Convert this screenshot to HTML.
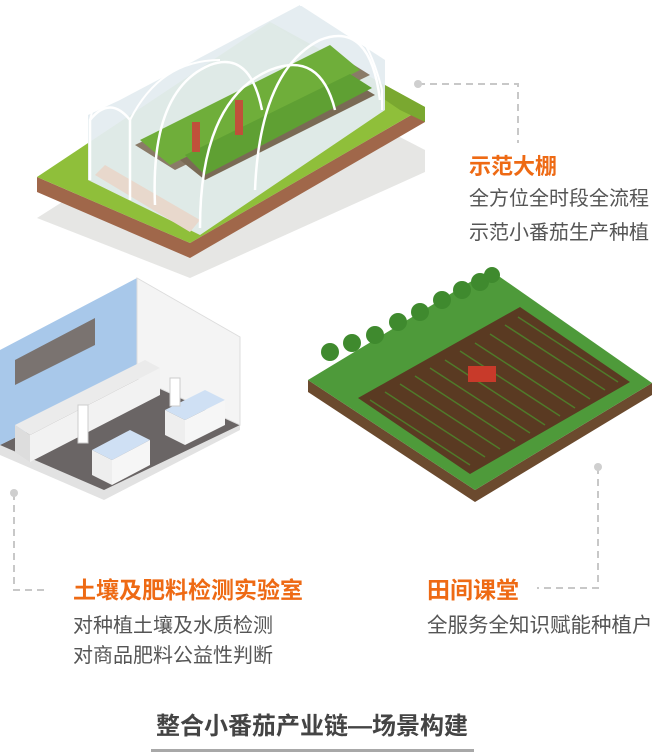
<!DOCTYPE html>
<html><head><meta charset="utf-8"><style>
html,body{margin:0;padding:0;background:#fff;}
body{width:654px;height:753px;position:relative;overflow:hidden;font-family:"Liberation Sans","Noto Sans CJK SC",sans-serif;}
.t{position:absolute;color:#ee6a14;font-weight:bold;font-size:22px;line-height:26px;white-space:nowrap;}
.b{position:absolute;color:#555;font-size:20px;line-height:24px;white-space:nowrap;}
svg{position:absolute;left:0;top:0;}
</style></head><body>
<svg width="654" height="753" viewBox="0 0 654 753">
<!-- greenhouse shadow -->
<polygon points="37,218 190,278 425,172 425,150 270,70" fill="#e6e6e4"/>
<!-- greenhouse platform -->
<polygon points="37,177 37,192 190,258 425,122 425,107 190,243" fill="#a0674a"/>
<polygon points="37,177 270,22 425,107 190,243" fill="#8fbf3a"/>
<polygon points="270,22 425,107 425,122 400,110" fill="#7aa830"/>
<!-- greenhouse body -->
<polygon points="88,180 88,115 120,100 300,5 385,60 385,110 200,235" fill="#e4ecf0" opacity="0.95"/>
<polygon points="95,175 190,232 200,220 105,165" fill="#e8d8cc"/>
<polygon points="135,145 330,50 370,75 175,170" fill="#8a7b68"/>
<polygon points="140,140 330,45 360,70 170,165" fill="#6fae3a"/>
<polygon points="180,160 350,80 375,95 205,180" fill="#7a6a55"/>
<polygon points="185,155 350,74 372,88 205,175" fill="#5fa033"/>
<path d="M90,180 L90,120 Q110,95 130,120 L130,200" fill="none" stroke="#fff" stroke-width="2.5"/>
<path d="M90,120 Q100,70 160,40 L300,0" fill="none" stroke="#fff" stroke-width="2"/>
<path d="M130,120 Q160,60 220,60" fill="none" stroke="#fff" stroke-width="2"/>
<path d="M200,228 Q200,100 270,70 Q320,50 335,110" fill="none" stroke="#fff" stroke-width="2.5"/>
<path d="M155,205 Q150,90 210,65 Q250,50 262,110" fill="none" stroke="#fff" stroke-width="2.5"/>
<path d="M255,190 Q260,70 320,40 Q370,20 380,100" fill="none" stroke="#fff" stroke-width="2.5"/>
<path d="M300,5 Q360,0 382,90 L382,110" fill="none" stroke="#fff" stroke-width="2"/>
<rect x="192" y="122" width="8" height="30" fill="#c0503a"/>
<rect x="235" y="100" width="8" height="35" fill="#c0503a"/>
<!-- field -->
<polygon points="308,380 308,392 475,502 652,395 652,383 475,490" fill="#6b4a2e"/>
<polygon points="308,380 490,270 652,383 475,490" fill="#4e9a3a"/>
<polygon points="358,398 520,307 630,382 470,474" fill="#5a3a22"/>
<g stroke="#4f7a2a" stroke-width="1.5">
<line x1="370" y1="400" x2="470" y2="465"/><line x1="385" y1="392" x2="485" y2="457"/>
<line x1="400" y1="384" x2="500" y2="449"/><line x1="415" y1="376" x2="515" y2="441"/>
<line x1="430" y1="368" x2="530" y2="433"/><line x1="445" y1="360" x2="545" y2="425"/>
<line x1="460" y1="351" x2="560" y2="416"/><line x1="475" y1="343" x2="575" y2="408"/>
<line x1="490" y1="334" x2="590" y2="399"/><line x1="505" y1="325" x2="605" y2="390"/>
<line x1="518" y1="317" x2="618" y2="382"/>
</g>
<g fill="#3f8a2e">
<circle cx="330" cy="352" r="9"/><circle cx="352" cy="343" r="9"/><circle cx="375" cy="335" r="9"/><circle cx="398" cy="322" r="9"/><circle cx="420" cy="312" r="9"/><circle cx="442" cy="300" r="9"/><circle cx="462" cy="290" r="9"/><circle cx="480" cy="282" r="9"/><circle cx="492" cy="275" r="8"/>
</g>
<rect x="468" y="366" width="28" height="16" fill="#c83a2a"/>
<!-- lab -->
<polygon points="0,455 104,500 240,430 240,420 137,372 0,440" fill="#e2e2e2"/>
<polygon points="0,445 104,490 240,425 137,378" fill="#6a6565"/>
<polygon points="0,350 137,278 137,378 0,445" fill="#a8c8ea"/>
<polygon points="137,278 240,337 240,425 137,378" fill="#f4f4f4" stroke="#ddd"/>
<polygon points="15,360 95,318 95,345 15,385" fill="#7a7370"/>
<polygon points="15,425 145,360 160,368 30,435" fill="#ebebeb"/>
<polygon points="15,425 30,435 30,462 15,452" fill="#ddd"/>
<polygon points="30,435 160,368 160,395 30,462" fill="#f2f2f2"/>
<polygon points="165,410 205,390 225,400 185,420" fill="#cfe0f4"/>
<polygon points="165,410 185,420 185,445 165,435" fill="#eee"/>
<polygon points="185,420 225,400 225,425 185,445" fill="#f6f6f6"/>
<polygon points="92,450 130,430 150,440 112,460" fill="#cfe0f4"/>
<polygon points="92,450 112,460 112,485 92,475" fill="#eee"/>
<polygon points="112,460 150,440 150,465 112,485" fill="#f6f6f6"/>
<rect x="78" y="405" width="10" height="38" fill="#fff" stroke="#ccc"/>
<rect x="170" y="378" width="10" height="28" fill="#fff" stroke="#ccc"/>
<!-- connectors -->
<g fill="none" stroke="#c8c8c8" stroke-width="2" stroke-dasharray="7,5">
<path d="M418,84 H518 V143"/>
<path d="M14,493 V590 H48"/>
<path d="M598,467 V588 H537"/>
</g>
<g fill="#cfcfcf"><circle cx="418" cy="84" r="4"/><circle cx="14" cy="493" r="4"/><circle cx="598" cy="467" r="4"/></g>
<rect x="151" y="749" width="323" height="3" fill="#a8a8a8"/>
</svg>
<div class="t" style="left:469px;top:154px;">示范大棚</div>
<div class="b" style="left:469px;top:187px;">全方位全时段全流程</div>
<div class="b" style="left:469px;top:221px;">示范小番茄生产种植</div>
<div class="t" style="left:73px;top:577px;font-size:23px;">土壤及肥料检测实验室</div>
<div class="b" style="left:73px;top:614px;">对种植土壤及水质检测</div>
<div class="b" style="left:73px;top:644px;">对商品肥料公益性判断</div>
<div class="t" style="left:427px;top:577px;font-size:23px;">田间课堂</div>
<div class="b" style="left:427px;top:614px;font-size:20.5px;">全服务全知识赋能种植户</div>
<div style="position:absolute;left:156px;top:713px;font-size:24px;font-weight:bold;color:#444;white-space:nowrap;line-height:28px;">整合小番茄产业链—场景构建</div>
</body></html>
